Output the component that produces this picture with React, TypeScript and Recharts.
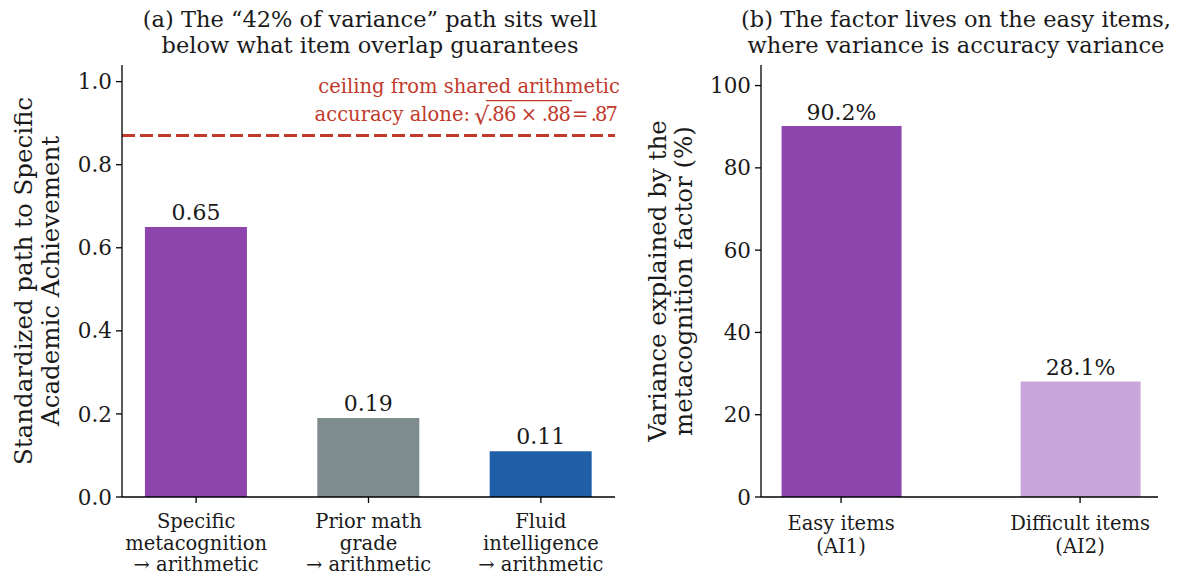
import React from 'react';
import { BarChart, Bar, XAxis, YAxis, ReferenceLine, LabelList, Cell } from 'recharts';

// panel (a): standardized paths
const pathLabels = [
  ['Specific', 'metacognition', '→ arithmetic'],
  ['Prior math', 'grade', '→ arithmetic'],
  ['Fluid', 'intelligence', '→ arithmetic'],
];
const pathValues = [0.65, 0.19, 0.11];
const pathColors = ['#8e44ad', '#7f8c8d', '#1f5fa8'];
const pathTicks = [0, 0.2, 0.4, 0.6, 0.8, 1.0];
const ceiling = 0.87;

// panel (b): variance explained
const varianceLabels = [
  ['Easy items', '(AI1)'],
  ['Difficult items', '(AI2)'],
];
const varianceValues = [90.2, 28.1];
const varianceColors = ['#8e44ad', '#c9a5db'];
const varianceTicks = [0, 20, 40, 60, 80, 100];

const FONT = '"DejaVu Serif", serif';
const INK = '#1a1a1a';
const RED = '#c0392b';

const pathData = pathValues.map((value, i) => ({ x: i, value, color: pathColors[i] }));
const varianceData = varianceValues.map((value, i) => ({ x: i, value, color: varianceColors[i] }));

const makeTick = (labels: string[][], first: number, step: number) => (props: any) => {
  const { x, y, payload } = props;
  const lines = labels[Math.round(payload.value)] || [];
  return (
    <text x={x} y={y + first} textAnchor="middle" fontFamily={FONT} fontSize={19.5} fill={INK}>
      {lines.map((l, i) => (
        <tspan key={i} x={x} dy={i === 0 ? 0 : step}>{l}</tspan>
      ))}
    </text>
  );
};

// red note above the dashed ceiling line, tied to the line's position
const CeilingLabel = (props: any) => {
  const { viewBox } = props;
  const right = viewBox.x + viewBox.width + 5;
  const base = viewBox.y;
  const style = { fontFamily: FONT, fontSize: 19.5, fill: RED };
  return (
    <g>
      <text x={right} y={base - 43} textAnchor="end" {...style}>ceiling from shared arithmetic</text>
      <text x={right - 48} y={base - 15} textLength={46} lengthAdjust="spacing" {...style}>= .87</text>
      <text x={right - 133} y={base - 15} textLength={84} lengthAdjust="spacing" {...style}>.86 × .88</text>
      <text x={right - 146} y={base - 12} {...style} fontSize={24}>√</text>
      <line x1={right - 134} x2={right - 48} y1={base - 35} y2={base - 35} stroke={RED} strokeWidth={1.3} />
      <text x={right - 150} y={base - 15} textAnchor="end" {...style}>accuracy alone:</text>
    </g>
  );
};

const axisProps = {
  stroke: '#000',
  strokeWidth: 1.3,
  tickLine: { stroke: '#000', strokeWidth: 1.3 },
  tickSize: 6,
};

export default function App() {
  return (
    <div style={{ position: 'absolute', left: 0, top: 0, width: 1184, height: 578, background: '#fff' }}>
      <div style={{ position: 'absolute', left: 0, top: 0 }}>
        <BarChart width={640} height={578} data={pathData} margin={{ top: 65, right: 25, bottom: 51, left: 62 }}>
          <XAxis
            type="number"
            dataKey="x"
            domain={[-0.43, 2.43]}
            ticks={[0, 1, 2]}
            {...axisProps}
            height={30}
            tick={makeTick(pathLabels, 23, 21.5)}
          />
          <YAxis
            type="number"
            domain={[0, 1.04]}
            ticks={pathTicks}
            {...axisProps}
            width={60}
            tickMargin={4}
            tickFormatter={(v: number) => v.toFixed(1)}
            tick={{ fill: INK, fontFamily: FONT, fontSize: 21.5 }}
          />
          <ReferenceLine
            y={ceiling}
            stroke={RED}
            strokeWidth={3}
            strokeDasharray="13 5"
            label={<CeilingLabel />}
          />
          <Bar dataKey="value" barSize={102} isAnimationActive={false}>
            {pathData.map((d, i) => (
              <Cell key={`a-${i}`} fill={d.color} />
            ))}
            <LabelList
              dataKey="value"
              position="top"
              offset={7}
              formatter={(v: any) => Number(v).toFixed(2)}
              style={{ fill: INK, fontFamily: FONT, fontSize: 22 }}
            />
          </Bar>
        </BarChart>
      </div>
      <div style={{ position: 'absolute', left: 640, top: 0 }}>
        <BarChart width={544} height={578} data={varianceData} margin={{ top: 65, right: 26, bottom: 51, left: 61 }}>
          <XAxis
            type="number"
            dataKey="x"
            domain={[-0.335, 1.326]}
            ticks={[0, 1]}
            {...axisProps}
            height={30}
            tick={makeTick(varianceLabels, 25, 22.5)}
          />
          <YAxis
            type="number"
            domain={[0, 105]}
            ticks={varianceTicks}
            {...axisProps}
            width={60}
            tickMargin={4}
            tick={{ fill: INK, fontFamily: FONT, fontSize: 21.5 }}
          />
          <Bar dataKey="value" barSize={120} isAnimationActive={false}>
            {varianceData.map((d, i) => (
              <Cell key={`b-${i}`} fill={d.color} />
            ))}
            <LabelList
              dataKey="value"
              position="top"
              offset={6}
              formatter={(v: any) => `${Number(v).toFixed(1)}%`}
              style={{ fill: INK, fontFamily: FONT, fontSize: 22 }}
            />
          </Bar>
        </BarChart>
      </div>
      <svg width={1184} height={578} style={{ position: 'absolute', left: 0, top: 0, pointerEvents: 'none' }}>
        <g fontFamily={FONT} fill={INK} textAnchor="middle">
          <text x={370} y={27} fontSize={22.5}>(a) The “42% of variance” path sits well</text>
          <text x={370} y={53} fontSize={22.5}>below what item overlap guarantees</text>
          <text x={956} y={27} fontSize={22.5}>(b) The factor lives on the easy items,</text>
          <text x={956} y={53} fontSize={22.5}>where variance is accuracy variance</text>
          <text x={32} y={281} fontSize={24.5} transform="rotate(-90 32 281)">Standardized path to Specific</text>
          <text x={59} y={281} fontSize={24.5} transform="rotate(-90 59 281)">Academic Achievement</text>
          <text x={666} y={281} fontSize={24.5} transform="rotate(-90 666 281)">Variance explained by the</text>
          <text x={692} y={281} fontSize={24.5} transform="rotate(-90 692 281)">metacognition factor (%)</text>
        </g>
      </svg>
    </div>
  );
}
